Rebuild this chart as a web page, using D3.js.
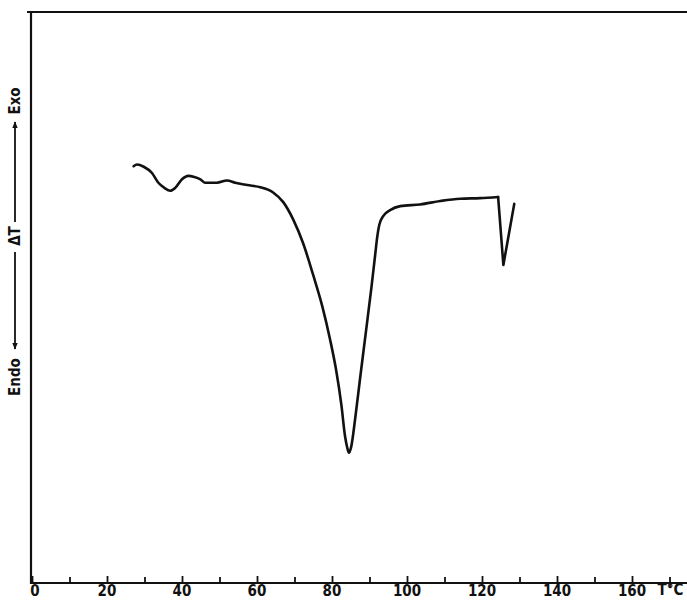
<!DOCTYPE html>
<html>
<head>
<meta charset="utf-8">
<script src="https://cdn.jsdelivr.net/npm/d3@7"></script>
<style>
  html, body { margin: 0; padding: 0; background: #fff; }
  svg { display: block; }
  .lbl { font-family: "Liberation Sans Narrow", "DejaVu Sans Condensed", "Liberation Sans", sans-serif; font-weight: bold; fill: #111; }
</style>
</head>
<body>
<svg id="chart" width="687" height="602"></svg>
<script>
// ---- data ----
const temperature = [27.1, 28.0, 29.8, 32.0, 33.7, 35.3, 36.9, 38.2, 40.0, 41.7, 43.3, 44.9, 46.2, 49.3, 52.0, 54.2, 57.4, 60.9, 64.3, 67.0, 69.7, 72.3, 75.0, 77.4, 79.5, 81.1, 82.5, 83.5, 84.1, 84.5, 85.1, 86.2, 87.5, 89.1, 90.5, 91.5, 92.1, 92.6, 93.7, 95.5, 98.2, 103.5, 108.9, 114.2, 119.5, 124.3, 125.7, 128.6];
const deltaT = [73.0, 73.3, 72.9, 71.8, 70.1, 69.2, 68.7, 69.2, 70.7, 71.3, 71.1, 70.7, 70.1, 70.1, 70.5, 70.1, 69.7, 69.3, 68.4, 66.7, 63.6, 59.5, 53.9, 48.5, 42.6, 37.3, 31.2, 25.6, 23.6, 22.8, 23.8, 28.9, 35.9, 44.3, 51.7, 57.4, 60.8, 62.7, 64.3, 65.3, 66.0, 66.3, 66.9, 67.3, 67.4, 67.6, 55.7, 66.4];
const tickValues = [0, 10, 20, 30, 40, 50, 60, 70, 80, 90, 100, 110, 120, 130, 140, 150, 160, 170];
const tickLabels = ["0", "20", "40", "60", "80", "100", "120", "140", "160"];
const labelValues = [0, 20, 40, 60, 80, 100, 120, 140, 160];
const xUnit = "T°C";
const yWords = { top: "Exo", mid: "ΔT", bottom: "Endo" };

// ---- layout ----
const svg = d3.select("#chart");
const padL = 31, padT = 12, axisY = 583, edgeR = 687;
const x = d3.scaleLinear().domain([0, 170]).range([32, 669.5]);
const y = d3.scaleLinear().domain([0, 100]).range([axisY, padT]);

svg.append("defs").append("marker")
  .attr("id", "arr").attr("viewBox", "0 0 10 10").attr("refX", 9).attr("refY", 5)
  .attr("markerWidth", 7).attr("markerHeight", 7).attr("markerUnits", "userSpaceOnUse")
  .attr("orient", "auto")
  .append("path").attr("d", "M0,1 L10,5 L0,9 Z").attr("fill", "#111");

// frame: top line and left axis
svg.append("line").attr("x1", padL - 4).attr("x2", edgeR).attr("y1", padT).attr("y2", padT)
  .attr("stroke", "#111").attr("stroke-width", 2.2);
svg.append("line").attr("x1", padL).attr("x2", padL).attr("y1", padT - 1).attr("y2", axisY + 1)
  .attr("stroke", "#111").attr("stroke-width", 2.2);

// bottom axis
const axisG = svg.append("g").attr("transform", `translate(0,${axisY})`);
axisG.call(d3.axisBottom(x).tickValues(tickValues).tickSize(0).tickFormat(""));
axisG.select(".domain").remove();
axisG.append("line").attr("x1", padL - 1).attr("x2", edgeR).attr("y1", 0).attr("y2", 0)
  .attr("stroke", "#111").attr("stroke-width", 2.2);
axisG.selectAll(".tick").append("line")
  .attr("y1", d => d === 170 ? 5 : 0).attr("y2", d => d % 20 === 0 ? -7 : -6)
  .attr("stroke", "#111").attr("stroke-width", 1.8);

svg.selectAll("text.xl").data(labelValues).enter().append("text")
  .attr("class", "lbl xl")
  .attr("x", d => x(d) + (d === 0 ? 3 : 0)).attr("y", axisY + 13)
  .attr("text-anchor", "middle").attr("font-size", 15)
  .text((d, i) => tickLabels[i]);
svg.append("text").attr("class", "lbl").attr("x", x(170) + 1).attr("y", axisY + 12)
  .attr("text-anchor", "middle").attr("font-size", 15).text(xUnit);

// y label with arrows
function vtext(txt, cy) {
  svg.append("text").attr("class", "lbl").attr("font-size", 15)
    .attr("text-anchor", "middle").attr("dominant-baseline", "central")
    .attr("transform", `translate(15,${cy}) rotate(-90)`).text(txt);
}
vtext(yWords.top, 101);
vtext(yWords.mid, 236);
vtext(yWords.bottom, 377);
svg.append("line").attr("x1", 15).attr("x2", 15).attr("y1", 222).attr("y2", 122)
  .attr("stroke", "#111").attr("stroke-width", 1.8).attr("marker-end", "url(#arr)");
svg.append("line").attr("x1", 15).attr("x2", 15).attr("y1", 252).attr("y2", 349)
  .attr("stroke", "#111").attr("stroke-width", 1.8).attr("marker-end", "url(#arr)");

// curve
const pts = temperature.map((t, i) => [t, deltaT[i]]);
const corner = temperature.indexOf(124.3);
const smooth = d3.line().x(d => x(d[0])).y(d => y(d[1])).curve(d3.curveMonotoneX);
const straight = d3.line().x(d => x(d[0])).y(d => y(d[1]));
svg.append("path").attr("d", smooth(pts.slice(0, corner + 1)))
  .attr("fill", "none").attr("stroke", "#111").attr("stroke-width", 2.6)
  .attr("stroke-linejoin", "round").attr("stroke-linecap", "round");
svg.append("path").attr("d", straight(pts.slice(corner)))
  .attr("fill", "none").attr("stroke", "#111").attr("stroke-width", 2.6)
  .attr("stroke-linejoin", "round").attr("stroke-linecap", "round");
</script>
</body>
</html>
